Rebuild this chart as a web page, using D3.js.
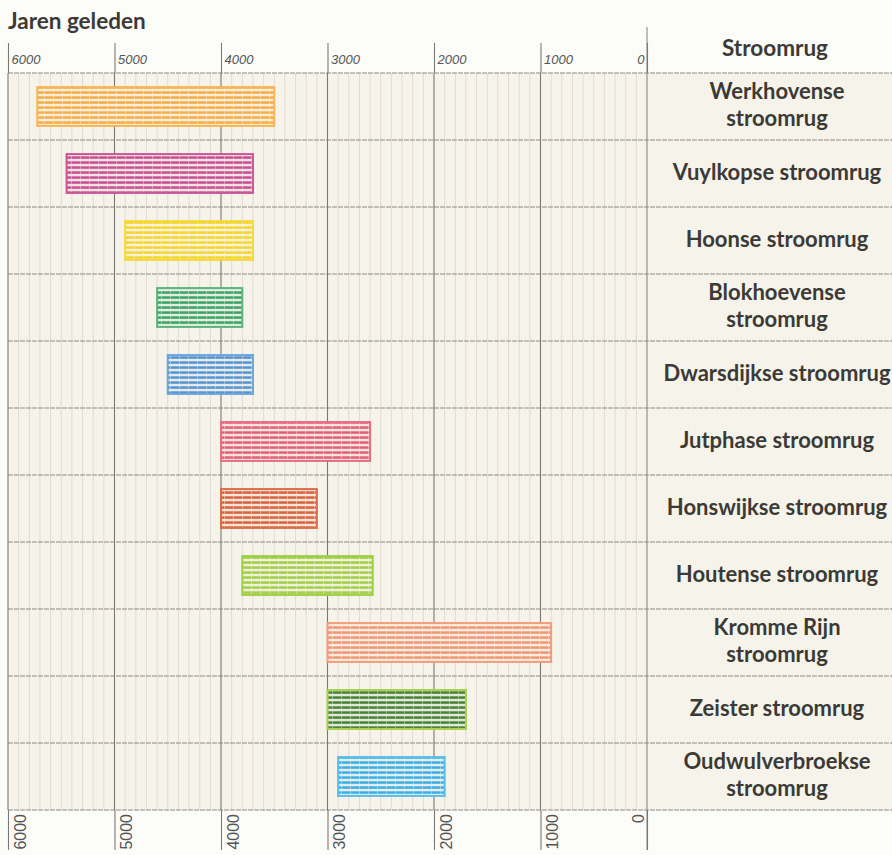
<!DOCTYPE html>
<html>
<head>
<meta charset="utf-8">
<script src="https://cdn.jsdelivr.net/npm/d3@7"></script>
<style>
  body { margin: 0; background: #fcfcf9; }
  svg { display: block; font-family: Lato, "Open Sans", sans-serif; }
</style>
</head>
<body>
<div id="chart"></div>
<script>
// stroomruggen, oldest first
const names = [
  "Werkhovense stroomrug", "Vuylkopse stroomrug", "Hoonse stroomrug",
  "Blokhoevense stroomrug", "Dwarsdijkse stroomrug", "Jutphase stroomrug",
  "Honswijkse stroomrug", "Houtense stroomrug", "Kromme Rijn stroomrug",
  "Zeister stroomrug", "Oudwulverbroekse stroomrug",
];
// label lines as printed
const labelLines = [
  ["Werkhovense", "stroomrug"], ["Vuylkopse stroomrug"], ["Hoonse stroomrug"],
  ["Blokhoevense", "stroomrug"], ["Dwarsdijkse stroomrug"], ["Jutphase stroomrug"],
  ["Honswijkse stroomrug"], ["Houtense stroomrug"], ["Kromme Rijn", "stroomrug"],
  ["Zeister stroomrug"], ["Oudwulverbroekse", "stroomrug"],
];
// years ago (start / end of activity)
const startYears = [5725, 5450, 4900, 4600, 4500, 4000, 4000, 3800, 3000, 3000, 2900];
const endYears = [3500, 3700, 3700, 3800, 3700, 2600, 3100, 2575, 900, 1700, 1900];
const stripeColors = ["#f6a63a", "#c4428c", "#f3d21e", "#2e9c5e", "#4a8bd0", "#e2546e",
  "#d5572f", "#9bcb3c", "#f08f6b", "#3a7a2b", "#2ea8e2"];
const borderColors = ["#f8b555", "#c95797", "#f5d93a", "#5db37f", "#6aa6dc", "#e66d82",
  "#db6c48", "#9fd043", "#f29c7c", "#a7d04b", "#58bdea"];
const tickValues = [6000, 5000, 4000, 3000, 2000, 1000, 0];

const W = 892, H = 855;
const svg = d3.select("#chart").append("svg").attr("width", W).attr("height", H);

const x = d3.scaleLinear().domain([6000, 0]).range([8, 647]);
const y = d3.scaleBand().domain(names).range([73, 810]);
const barH = y.bandwidth() * 0.58;

// backgrounds
svg.append("rect").attr("x", 8).attr("y", 73).attr("width", W - 8).attr("height", 737)
  .attr("fill", "#f6f4ea");

// patterns
const defs = svg.append("defs");
names.forEach((n, i) => {
  const p = defs.append("pattern").attr("id", "pat" + i)
    .attr("patternUnits", "userSpaceOnUse").attr("width", 9).attr("height", 5);
  p.append("rect").attr("width", 9).attr("height", 5).attr("fill", "#fbf8ef");
  p.append("rect").attr("width", 9).attr("height", 5).attr("fill", stripeColors[i]).attr("opacity", 0.12);
  p.append("rect").attr("x", 0).attr("y", 1.3).attr("width", 8).attr("height", 2.5)
    .attr("fill", stripeColors[i]).attr("opacity", 0.92);
  p.append("rect").attr("x", 8).attr("y", 1.3).attr("width", 1).attr("height", 2.5)
    .attr("fill", stripeColors[i]).attr("opacity", 0.5);
});

// minor grid (every 100 years)
svg.append("g").selectAll("line").data(d3.range(100, 6000, 100).filter(d => d % 1000))
  .join("line")
  .attr("x1", d => x(d)).attr("x2", d => x(d))
  .attr("y1", 73).attr("y2", 810)
  .attr("stroke", "#ddd3cf").attr("stroke-width", 0.8);

// row lines
svg.append("g").selectAll("line").data(names.map(n => y(n)).concat([810]))
  .join("line")
  .attr("x1", 8).attr("x2", W).attr("y1", d => d).attr("y2", d => d)
  .attr("stroke", "#8f8a86").attr("stroke-width", 1.1).attr("stroke-dasharray", "5,1");

// major grid
svg.append("g").selectAll("line").data(tickValues.filter(d => d > 0))
  .join("line")
  .attr("x1", d => x(d)).attr("x2", d => x(d))
  .attr("y1", 73).attr("y2", 810)
  .attr("stroke", "#7b7773").attr("stroke-width", 1.1);

// separator between chart and labels
svg.append("line").attr("x1", x(0)).attr("x2", x(0)).attr("y1", 27).attr("y2", 850)
  .attr("stroke", "#8d8985").attr("stroke-width", 1.1);

// bars
svg.append("g").selectAll("rect").data(names).join("rect")
  .attr("x", (d, i) => x(startYears[i]))
  .attr("width", (d, i) => x(endYears[i]) - x(startYears[i]))
  .attr("y", d => y(d) + (y.bandwidth() - barH) / 2)
  .attr("height", barH)
  .attr("fill", (d, i) => `url(#pat${i})`)
  .attr("stroke", (d, i) => borderColors[i])
  .attr("stroke-width", 2);

// top axis
const topAxis = svg.append("g").attr("transform", "translate(0,73)")
  .call(d3.axisTop(x).tickValues(tickValues).tickSize(30).tickFormat(d3.format("d")));
topAxis.select(".domain").remove();
topAxis.selectAll(".tick line").attr("stroke", "#7b7773").attr("stroke-width", 1.1);
topAxis.selectAll(".tick text")
  .attr("fill", "#555")
  .attr("font-size", 13)
  .attr("font-style", "italic")
  .style("font-variant-numeric", "oldstyle-nums")
  .attr("y", -9).attr("dy", 0)
  .attr("x", d => (d === 0 ? -3 : 3))
  .attr("text-anchor", d => (d === 0 ? "end" : "start"));

// bottom axis
const bottomAxis = svg.append("g").attr("transform", "translate(0,810)")
  .call(d3.axisBottom(x).tickValues(tickValues).tickSize(40).tickFormat(d3.format("d")));
bottomAxis.select(".domain").remove();
bottomAxis.selectAll(".tick line").attr("stroke", "#7b7773").attr("stroke-width", 1.1);
bottomAxis.selectAll(".tick text")
  .attr("fill", "#555")
  .attr("font-size", 16)
  .attr("transform", "rotate(-90)")
  .attr("text-anchor", "end")
  .attr("x", -4).attr("dy", 0)
  .attr("y", d => (d === 0 ? -4 : 17));

// titles
svg.append("text").attr("x", 8).attr("y", 29)
  .attr("font-size", 22.5).attr("font-weight", "bold").attr("fill", "#3c3a36")
  .text("Jaren geleden");
svg.append("text").attr("x", 775).attr("y", 56).attr("text-anchor", "middle")
  .attr("font-size", 22.5).attr("font-weight", "bold").attr("fill", "#3c3a36")
  .text("Stroomrug");

// row labels
const labels = svg.append("g").selectAll("text").data(names).join("text")
  .attr("text-anchor", "middle")
  .attr("font-size", 22).attr("font-weight", "bold").attr("fill", "#3c3a36")
  .attr("y", d => y(d) + y.bandwidth() / 2);
labels.each(function (d, i) {
  const lines = labelLines[i];
  const t = d3.select(this);
  lines.forEach((ln, j) => {
    t.append("tspan").attr("x", 777)
      .attr("dy", j === 0 ? (lines.length === 1 ? "0.3em" : "-0.33em") : "1.2em")
      .text(ln);
  });
});
</script>
</body>
</html>
